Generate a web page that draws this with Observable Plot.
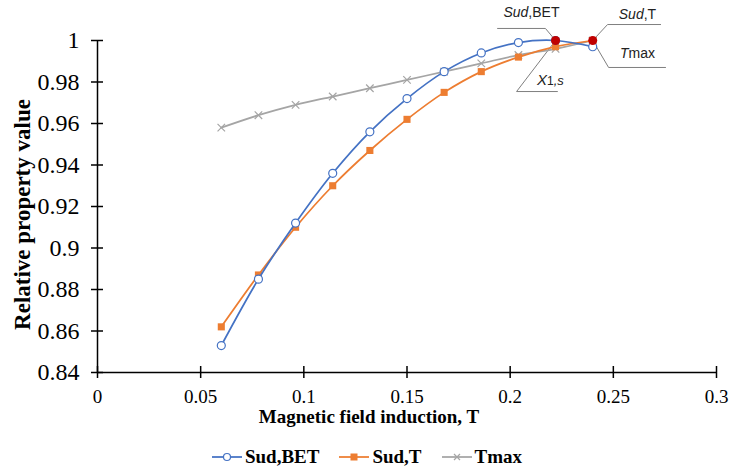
<!DOCTYPE html>
<html>
<head>
<meta charset="utf-8">
<script src="https://cdn.jsdelivr.net/npm/d3@7"></script>
<script src="https://cdn.jsdelivr.net/npm/@observablehq/plot@0.6"></script>
<style>
  html, body { margin: 0; padding: 0; background: #fff; }
  #wrap { width: 734px; height: 474px; position: relative; overflow: hidden; }
  #legend { position: absolute; left: 0; top: 446px; width: 734px; display: flex; justify-content: center; align-items: center;
    font-family: "Times New Roman", "Liberation Serif", "DejaVu Serif", serif; font-weight: bold; font-size: 19px; color: #000; }
  #legend .item { display: flex; align-items: center; margin: 0 10px; }
  #legend svg { margin-right: 3px; }
  #chart svg text { font-family: "Times New Roman", "Liberation Serif", "DejaVu Serif", serif; }
  #chart svg g.annot text { font-family: "Liberation Sans", Arial, sans-serif; }
</style>
</head>
<body>
<div id="wrap"><div id="chart"></div><div id="legend"></div></div>
<script>
// ---- data ----
const fieldT   = [0.06, 0.078, 0.096, 0.114, 0.132, 0.15, 0.168, 0.186, 0.204, 0.222, 0.24];
const sudBET   = [0.853, 0.885, 0.912, 0.936, 0.956, 0.972, 0.985, 0.994, 0.999, 1.000, 0.997];
const sudT     = [0.862, 0.887, 0.910, 0.930, 0.947, 0.962, 0.975, 0.985, 0.992, 0.997, 1.000];
const tmax     = [0.958, 0.964, 0.969, 0.973, 0.977, 0.981, 0.985, 0.989, 0.993, 0.996, 1.000];
const seriesNames = ["Sud,BET", "Sud,T", "Tmax"];
const maxPointX = [0.222, 0.24];
const maxPointY = [1.0, 1.0];
const xTicks = [0, 0.05, 0.1, 0.15, 0.2, 0.25, 0.3];
const yTicks = [0.84, 0.86, 0.88, 0.9, 0.92, 0.94, 0.96, 0.98, 1];
const xTitle = "Magnetic field induction, T";
const yTitle = "Relative property value";
// annotation labels with leader lines (data units)
const annLabels = ["Sud,BET", "Sud,T", "Tmax", "X1,s"];
const annTextX  = [0.2103, 0.2617, 0.2617, 0.2195];
const annTextY  = [1.0135, 1.0125, 0.9937, 0.9805];
const leaderX = [[0.1939, 0.2171, 0.222], [0.24, 0.2472, 0.2729], [0.24, 0.2477, 0.2753], [0.222, 0.2031, 0.2229]];
const leaderY = [[1.0058, 1.0058, 1.0], [1.0, 1.0077, 1.0077], [1.0, 0.9870, 0.9870], [1.0, 0.9754, 0.9754]];

const colors = {"Sud,BET": "#4472C4", "Sud,T": "#ED7D31", "Tmax": "#A5A5A5"};

const rows = fieldT.map((x, i) => ({x, bet: sudBET[i], t: sudT[i], tm: tmax[i]}));
const redPts = maxPointX.map((x, i) => ({x, y: maxPointY[i]}));
const annRows = annLabels.map((label, i) => ({label, x: annTextX[i], y: annTextY[i]}));
const leaderRows = leaderX.flatMap((xs, k) => xs.map((x, j) => ({k, x, y: leaderY[k][j]})));

const chart = Plot.plot({
  width: 734, height: 446,
  marginLeft: 97, marginRight: 18, marginTop: 40, marginBottom: 74,
  x: {domain: [0, 0.3]},
  y: {domain: [0.84, 1]},
  style: {fontSize: "19px", color: "#000", background: "transparent", overflow: "visible"},
  marks: [
    // axis lines and crossing ticks
    Plot.ruleY([0.84], {x1: 0, x2: 0.3, stroke: "#000", strokeWidth: 1.5}),
    Plot.ruleX([0], {y1: 0.84, y2: 1, stroke: "#000", strokeWidth: 1.5}),
    Plot.ruleX(xTicks, {x: d => d, y1: 0.84, y2: 0.84, insetTop: -6, insetBottom: -6, stroke: "#000", strokeWidth: 1.5}),
    Plot.ruleY(yTicks, {y: d => d, x1: 0, x2: 0, insetLeft: -6, insetRight: -6, stroke: "#000", strokeWidth: 1.5}),
    Plot.axisX(xTicks, {tickSize: 0, tickPadding: 17, label: null, fontSize: 19, tickFormat: d => String(d)}),
    Plot.axisY(yTicks, {tickSize: 0, tickPadding: 18, label: null, fontSize: 24, tickFormat: d => String(d)}),
    Plot.text([xTitle], {frameAnchor: "bottom", textAnchor: "middle", dx: -38, dy: 50, fontWeight: "bold", fontSize: 19}),
    Plot.text([yTitle], {frameAnchor: "left", textAnchor: "middle", rotate: -90, dx: -75, dy: 8, fontWeight: "bold", fontSize: 23}),
    // leader lines
    Plot.line(leaderRows, {x: "x", y: "y", z: "k", stroke: "#7F7F7F", strokeWidth: 1}),
    // series
    Plot.line(rows, {x: "x", y: "tm", curve: "catmull-rom", stroke: colors["Tmax"], strokeWidth: 1.75}),
    Plot.dot(rows, {x: "x", y: "tm", symbol: "times", r: 3.5, stroke: colors["Tmax"], strokeWidth: 1.2}),
    Plot.line(rows, {x: "x", y: "t", curve: "catmull-rom", stroke: colors["Sud,T"], strokeWidth: 1.75}),
    Plot.dot(rows, {x: "x", y: "t", symbol: "square", r: 4, fill: colors["Sud,T"], stroke: "none"}),
    Plot.line(rows, {x: "x", y: "bet", curve: "catmull-rom", stroke: colors["Sud,BET"], strokeWidth: 1.75}),
    Plot.dot(rows, {x: "x", y: "bet", symbol: "circle", r: 4, fill: "#fff", stroke: colors["Sud,BET"], strokeWidth: 1.2}),
    Plot.dot(redPts, {x: "x", y: "y", r: 4.5, fill: "#C00000", stroke: "none"}),
    // annotation text
    Plot.text(annRows, {x: "x", y: "y", text: "label", className: "annot", fontSize: 14, fill: "#222"})
  ]
});
document.getElementById("chart").appendChild(chart);

// rich formatting for annotation labels (italic symbols, subscript)
const rich = {
  "Sud,BET": [["Sud", "italic", null], [",BET", "normal", null]],
  "Sud,T": [["Sud", "italic", null], [",T", "normal", null]],
  "Tmax": [["T", "italic", null], ["max", "normal", null]],
  "X1,s": [["X", "italic", 15], ["1", "normal", 12], [",s", "italic", 13]]
};
d3.select(chart).selectAll(".annot text").each(function() {
  const label = this.textContent;
  const parts = rich[label];
  if (!parts) return;
  const sel = d3.select(this);
  sel.text(null);
  parts.forEach(([t, st, fs]) => {
    const ts = sel.append("tspan").text(t).attr("font-style", st);
    if (fs) ts.attr("font-size", fs);
  });
});

// legend
const legend = d3.select("#legend");
seriesNames.forEach(name => {
  const item = legend.append("div").attr("class", "item");
  const sw = item.append("svg").attr("width", 30).attr("height", 14);
  sw.append("line").attr("x1", 0).attr("x2", 30).attr("y1", 7).attr("y2", 7).attr("stroke", colors[name]).attr("stroke-width", 1.75);
  if (name === "Sud,BET") sw.append("circle").attr("cx", 15).attr("cy", 7).attr("r", 3.5).attr("fill", "#fff").attr("stroke", colors[name]).attr("stroke-width", 1.2);
  if (name === "Sud,T") sw.append("rect").attr("x", 11.5).attr("y", 3.5).attr("width", 7).attr("height", 7).attr("fill", colors[name]);
  if (name === "Tmax") sw.append("path").attr("d", "M12,4L18,10M18,4L12,10").attr("stroke", colors[name]).attr("stroke-width", 1.2);
  item.append("span").text(name);
});
</script>
</body>
</html>
